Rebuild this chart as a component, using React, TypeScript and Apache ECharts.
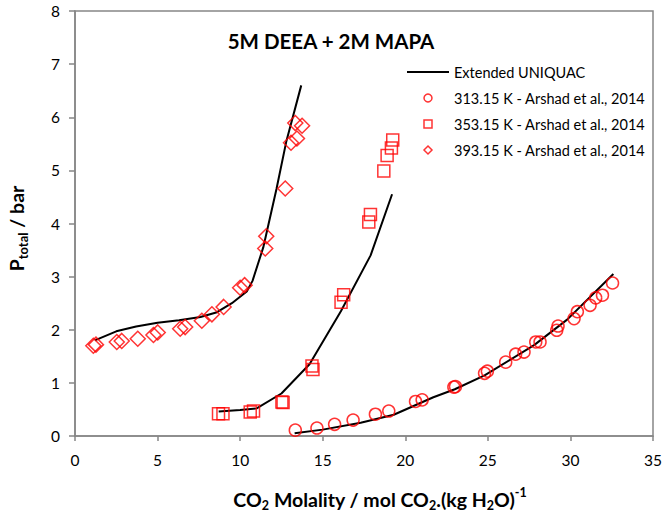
import React, { useEffect, useRef } from "react";
import * as echarts from "echarts";

const RED = "#ff0000";
const AXIS_GRAY = "#868686";
const FONT = "Lato, 'Noto Sans', sans-serif";

const titleText = "5M DEEA + 2M MAPA";
const modelName = "Extended UNIQUAC";
const name313 = "313.15 K - Arshad et al., 2014";
const name353 = "353.15 K - Arshad et al., 2014";
const name393 = "393.15 K - Arshad et al., 2014";

const xTicks = { min: 0, max: 35, interval: 5 };
const yTicks = { min: 0, max: 8, interval: 1 };

const exp313: [number, number][] = [
  [13.34, 0.11], [14.65, 0.15], [15.72, 0.22], [16.84, 0.3], [18.19, 0.41], [19.0, 0.47],
  [20.62, 0.65], [21.02, 0.68], [22.94, 0.92], [23.04, 0.93], [24.8, 1.18], [24.97, 1.22],
  [26.08, 1.39], [26.68, 1.54], [27.19, 1.58], [27.9, 1.77], [28.16, 1.77], [29.17, 1.99],
  [29.25, 2.07], [30.22, 2.21], [30.42, 2.34], [31.19, 2.46], [31.53, 2.6], [31.94, 2.65],
  [32.55, 2.88],
];

const exp353: [number, number][] = [
  [8.69, 0.42], [8.96, 0.42], [10.61, 0.45], [10.81, 0.47], [12.53, 0.64], [12.6, 0.63],
  [14.35, 1.32], [14.41, 1.25], [16.11, 2.52], [16.27, 2.66], [17.79, 4.03], [17.89, 4.17],
  [18.7, 4.99], [18.9, 5.28], [19.16, 5.42], [19.24, 5.57],
];

const exp393: [number, number][] = [
  [1.11, 1.7], [1.27, 1.72], [2.53, 1.77], [2.83, 1.79], [3.8, 1.83], [4.75, 1.9],
  [5.01, 1.95], [6.37, 2.02], [6.67, 2.05], [7.68, 2.17], [8.29, 2.29], [9.0, 2.43],
  [10.0, 2.79], [10.27, 2.84], [11.52, 3.53], [11.58, 3.76], [12.73, 4.66], [13.08, 5.52],
  [13.44, 5.6], [13.34, 5.89], [13.75, 5.84],
];

const model313: [number, number][] = [
  [13.3, 0.05], [15.0, 0.12], [17.3, 0.25], [19.3, 0.4], [21.7, 0.73], [23.0, 0.88],
  [24.8, 1.14], [27.8, 1.71], [29.8, 2.19], [32.6, 3.05],
];

const model353: [number, number][] = [
  [8.7, 0.46], [10.0, 0.49], [11.0, 0.52], [12.5, 0.8], [14.2, 1.35], [16.1, 2.35],
  [17.9, 3.4], [19.2, 4.55],
];

const model393: [number, number][] = [
  [1.2, 1.8], [2.5, 1.97], [3.7, 2.06], [5.0, 2.13], [6.3, 2.18], [7.6, 2.24], [8.6, 2.33],
  [9.5, 2.5], [10.4, 2.72], [10.75, 2.92], [11.4, 3.55], [12.2, 4.65], [12.8, 5.55],
  [13.7, 6.6],
];

function lineSeries(data: [number, number][]) {
  return {
    name: modelName,
    type: "line",
    data,
    symbol: "none",
    showSymbol: false,
    smooth: false,
    lineStyle: { color: "#000", width: 2 },
    itemStyle: { color: "#000" },
    z: 2,
  };
}

function scatterSeries(name: string, symbol: string, size: number, data: [number, number][]) {
  return {
    name,
    type: "scatter",
    data,
    symbol,
    symbolSize: size,
    itemStyle: { color: "rgba(255,255,255,0)", borderColor: RED, borderWidth: 1.5 },
    z: 3,
  };
}

export default function App() {
  const ref = useRef<HTMLDivElement>(null);
  useEffect(() => {
    document.body.style.margin = "0";
    if (!ref.current) return;
    const chart = echarts.init(ref.current, null, { renderer: "svg" });
    const legendIconStyle = { color: "rgba(255,255,255,0)", borderColor: RED, borderWidth: 1.5 };
    chart.setOption({
      animation: false,
      backgroundColor: "#fff",
      textStyle: { fontFamily: FONT },
      title: {
        text: titleText,
        left: 331,
        top: 30,
        textAlign: "center",
        padding: 0,
        textStyle: { fontFamily: FONT, fontWeight: "bold", fontSize: 20.5, color: "#000" },
      },
      legend: {
        left: 407,
        top: 64,
        padding: 0,
        orient: "vertical",
        itemWidth: 42,
        itemHeight: 8,
        itemGap: 10,
        symbolKeepAspect: true,
        textStyle: { fontFamily: FONT, fontSize: 14.5, color: "#000", lineHeight: 16 },
        data: [
          {
            name: modelName,
            icon: "path://M0,0L42,0L42,2L0,2Z",
            itemStyle: { color: "#000", borderWidth: 0 },
          },
          { name: name313, icon: "circle", itemStyle: legendIconStyle },
          { name: name353, icon: "path://M0,0L10,0L10,10L0,10Z", itemStyle: legendIconStyle },
          { name: name393, icon: "path://M5,0L10,5L5,10L0,5Z", itemStyle: legendIconStyle },
        ],
      },
      grid: {
        left: 75,
        right: 12,
        top: 11,
        bottom: 78,
        show: true,
        borderColor: AXIS_GRAY,
        borderWidth: 1.5,
        outerBoundsMode: "none",
      },
      xAxis: {
        type: "value",
        min: xTicks.min,
        max: xTicks.max,
        interval: xTicks.interval,
        name: "{n|CO}{s|2}{n| Molality / mol CO}{s|2}{n|.(kg H}{s|2}{n|O)}{p|-1}",
        nameLocation: "middle",
        nameGap: 50,
        nameTextStyle: {
          padding: [0, 0, 0, 32],
          rich: {
            n: { fontFamily: FONT, fontWeight: "bold", fontSize: 19.5, color: "#000", lineHeight: 26 },
            s: { fontFamily: FONT, fontWeight: "bold", fontSize: 12.5, color: "#000", lineHeight: 12, verticalAlign: "bottom" },
            p: { fontFamily: FONT, fontWeight: "bold", fontSize: 12.5, color: "#000", lineHeight: 12, verticalAlign: "top" },
          },
        },
        axisLine: { show: true, lineStyle: { color: AXIS_GRAY, width: 1.5 } },
        axisTick: { show: true, inside: false, length: 5, lineStyle: { color: AXIS_GRAY, width: 1.5 } },
        axisLabel: { fontFamily: FONT, fontSize: 15.5, color: "#000", margin: 16 },
        splitLine: { show: false },
      },
      yAxis: {
        type: "value",
        min: yTicks.min,
        max: yTicks.max,
        interval: yTicks.interval,
        name: "{n|P}{s|total}{n| / bar}",
        nameLocation: "middle",
        nameRotate: 90,
        nameGap: 46,
        nameTextStyle: {
          padding: [0, 10, 0, 0],
          rich: {
            n: { fontFamily: FONT, fontWeight: "bold", fontSize: 19.5, color: "#000", lineHeight: 26 },
            s: { fontFamily: FONT, fontWeight: "bold", fontSize: 13, color: "#000", lineHeight: 13, verticalAlign: "bottom" },
          },
        },
        axisLine: { show: true, lineStyle: { color: AXIS_GRAY, width: 1.5 } },
        axisTick: { show: true, inside: false, length: 6, lineStyle: { color: AXIS_GRAY, width: 1.5 } },
        axisLabel: { fontFamily: FONT, fontSize: 15.5, color: "#000", margin: 15 },
        splitLine: { show: false },
      },
      series: [
        lineSeries(model393),
        lineSeries(model353),
        lineSeries(model313),
        scatterSeries(name313, "circle", 12, exp313),
        scatterSeries(name353, "rect", 12, exp353),
        scatterSeries(name393, "diamond", 15, exp393),
      ],
    });
    return () => chart.dispose();
  }, []);
  return <div ref={ref} style={{ width: 665, height: 514 }} />;
}
